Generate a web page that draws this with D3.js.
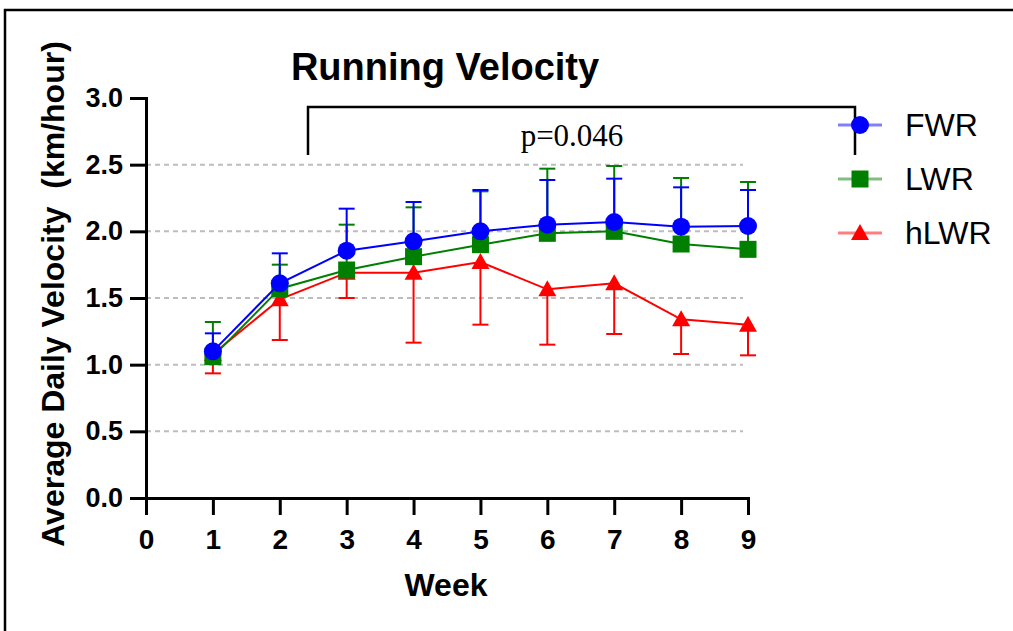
<!DOCTYPE html>
<html lang="en">
<head>
    <meta charset="UTF-8">
    <title>Running Velocity</title>
    <script src="https://cdn.jsdelivr.net/npm/d3@7"></script>
    <style>
        body{margin:0;background:#fff;}
        svg{display:block;}
        .axis path,.axis line{stroke:#000;stroke-width:3;}
        .axis text{font-family:"Liberation Sans",Arial,sans-serif;font-weight:bold;fill:#000;}
    </style>
</head>
<body>
<div id="chart"></div>
<script>
    // data
    var weeks = [1,2,3,4,5,6,7,8,9];
    var fwrMean = [1.10,1.61,1.855,1.925,2.00,2.05,2.07,2.035,2.04];
    var fwrErr  = [0.135,0.225,0.315,0.295,0.31,0.335,0.325,0.295,0.27];
    var lwrMean = [1.06,1.57,1.71,1.81,1.90,1.985,2.00,1.905,1.865];
    var lwrErr  = [0.26,0.18,0.34,0.37,0.40,0.485,0.49,0.495,0.505];
    var hlwrMean = [1.08,1.49,1.69,1.69,1.77,1.565,1.61,1.34,1.30];
    var hlwrErr  = [0.145,0.305,0.19,0.525,0.47,0.415,0.38,0.26,0.23];
    var yTicks = [0,0.5,1.0,1.5,2.0,2.5,3.0];
    var xTicks = [0,1,2,3,4,5,6,7,8,9];
    var gridVals = [0.5,1.0,1.5,2.0,2.5];

    var width = 1013, height = 631;
    var svg = d3.select('#chart').append('svg')
        .attr('width', width).attr('height', height);

    // outer frame
    svg.append('rect')
        .attr('x',5).attr('y',10).attr('width',1020).attr('height',640)
        .attr('fill','none').attr('stroke','#000').attr('stroke-width',2.5);

    var x = d3.scaleLinear().domain([0,9]).range([146,748]);
    var y = d3.scaleLinear().domain([0,3]).range([498,98]);

    // grid
    svg.append('g').selectAll('line')
        .data(gridVals).enter().append('line')
        .attr('x1',x(0)).attr('x2',743)
        .attr('y1',function(d){return y(d);})
        .attr('y2',function(d){return y(d);})
        .attr('stroke','#bdbdbd').attr('stroke-width',2)
        .attr('stroke-dasharray','5,4');

    // axes
    var yAxis = d3.axisLeft(y).tickValues(yTicks).tickSize(16).tickSizeOuter(0)
        .tickPadding(7).tickFormat(d3.format('.1f'));
    var gy = svg.append('g').attr('class','axis')
        .attr('transform','translate('+x(0)+',0)').call(yAxis);
    gy.selectAll('text').style('font-size','27px');

    var xAxis = d3.axisBottom(x).tickValues(xTicks).tickSize(17).tickSizeOuter(0)
        .tickPadding(14).tickFormat(d3.format('d'));
    var gx = svg.append('g').attr('class','axis')
        .attr('transform','translate(0,'+y(0)+')').call(xAxis);
    gx.selectAll('text').style('font-size','28px');
    svg.selectAll('.axis path').attr('stroke-linecap','square');

    // series
    var series = [
        {name:'hLWR', mean:hlwrMean, err:hlwrErr, color:'#ff0000', dir:-1, shape:'tri'},
        {name:'LWR', mean:lwrMean, err:lwrErr, color:'#007f00', dir:1, shape:'sq'},
        {name:'FWR', mean:fwrMean, err:fwrErr, color:'#0000ff', dir:1, shape:'circ'}
    ];

    function drawMarker(g, shape, color, cx, cy){
        if(shape==='circ'){
            g.append('circle').attr('cx',cx).attr('cy',cy).attr('r',9).attr('fill',color);
        } else if(shape==='sq'){
            g.append('rect').attr('x',cx-8.5).attr('y',cy-8.5)
                .attr('width',17).attr('height',17).attr('fill',color);
        } else {
            g.append('path')
                .attr('d','M'+cx+','+(cy-9)+'L'+(cx+9)+','+(cy+7)+'L'+(cx-9)+','+(cy+7)+'Z')
                .attr('fill',color);
        }
    }

    var line = d3.line()
        .x(function(d){return x(d[0]);})
        .y(function(d){return y(d[1]);});

    series.forEach(function(s){
        var g = svg.append('g');
        var pts = weeks.map(function(w,i){return [w, s.mean[i], s.err[i]];});
        // error bars
        pts.forEach(function(p){
            var end = p[1] + s.dir*p[2];
            g.append('line')
                .attr('x1',x(p[0])).attr('x2',x(p[0]))
                .attr('y1',y(p[1])).attr('y2',y(end))
                .attr('stroke',s.color).attr('stroke-width',2);
            g.append('line')
                .attr('x1',x(p[0])-8).attr('x2',x(p[0])+8)
                .attr('y1',y(end)).attr('y2',y(end))
                .attr('stroke',s.color).attr('stroke-width',2);
        });
        g.append('path').datum(pts).attr('d',line)
            .attr('fill','none').attr('stroke',s.color).attr('stroke-width',2);
        pts.forEach(function(p){
            drawMarker(g, s.shape, s.color, x(p[0]), y(p[1]));
        });
    });

    // significance bracket
    svg.append('path')
        .attr('d','M308,155V107H855V155')
        .attr('fill','none').attr('stroke','#000').attr('stroke-width',2.5);
    svg.append('text')
        .attr('x',572).attr('y',146).attr('text-anchor','middle')
        .style('font-family','"Liberation Serif","Times New Roman",serif')
        .style('font-size','31px').text('p=0.046');

    // title and axis titles
    svg.append('text')
        .attr('x',445).attr('y',80).attr('text-anchor','middle')
        .style('font-family','"Liberation Sans",Arial,sans-serif')
        .style('font-weight','bold').style('font-size','38px')
        .text('Running Velocity');
    svg.append('text')
        .attr('x',446).attr('y',596).attr('text-anchor','middle')
        .style('font-family','"Liberation Sans",Arial,sans-serif')
        .style('font-weight','bold').style('font-size','32px')
        .text('Week');
    svg.append('text')
        .attr('transform','translate(64,294) rotate(-90)')
        .attr('text-anchor','middle')
        .style('font-family','"Liberation Sans",Arial,sans-serif')
        .style('font-weight','bold').style('font-size','32px')
        .style('white-space','pre')
        .text('Average Daily Velocity  (km/hour)');

    // legend
    var legend = [
        {name:'FWR', color:'#0000ff', shape:'circ', y:125},
        {name:'LWR', color:'#007f00', shape:'sq', y:179},
        {name:'hLWR', color:'#ff0000', shape:'tri', y:233}
    ];
    legend.forEach(function(l){
        var g = svg.append('g');
        g.append('line').attr('x1',838).attr('x2',882)
            .attr('y1',l.y).attr('y2',l.y)
            .attr('stroke',l.color).attr('stroke-opacity',0.5).attr('stroke-width',3);
        drawMarker(g, l.shape, l.color, 860, l.y);
        g.append('text').attr('x',905).attr('y',l.y+11)
            .style('font-family','"Liberation Sans",Arial,sans-serif')
            .style('font-size','32px').text(l.name);
    });
</script>
</body>
</html>
